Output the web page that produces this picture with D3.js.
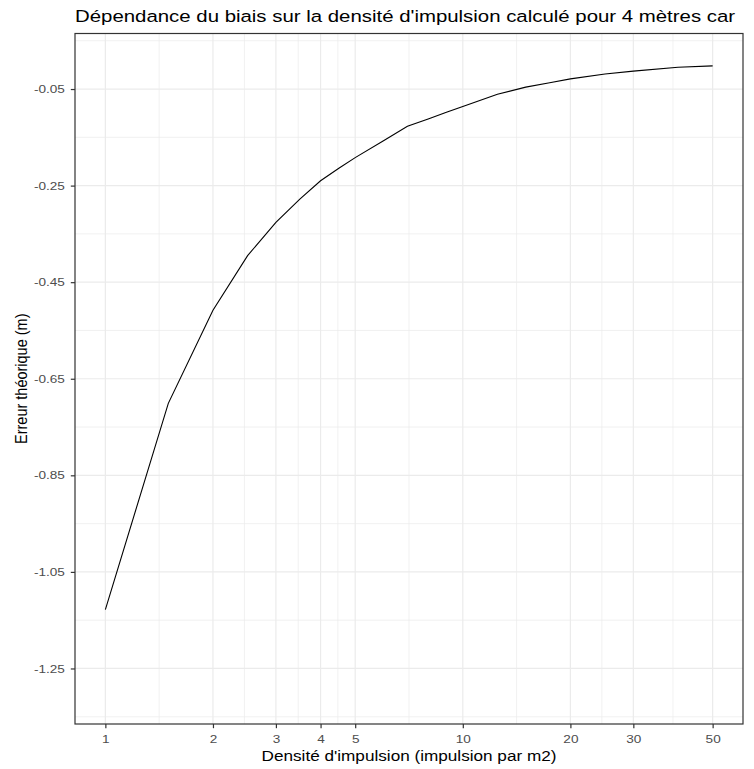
<!DOCTYPE html>
<html>
<head>
<meta charset="utf-8">
<script src="https://cdn.jsdelivr.net/npm/d3@7"></script>
<style>
  html, body { margin: 0; padding: 0; background: #fff; }
  svg { display: block; font-family: "Liberation Sans", Arial, sans-serif; }
</style>
</head>
<body>
<svg id="chart" width="754" height="769"></svg>
<script>
// Data
const densite = [1, 1.5, 2, 2.5, 3, 3.5, 4, 4.5, 5, 6, 7, 8, 9, 10, 12.5, 15, 17.5, 20, 25, 30, 40, 50];
const erreur  = [-1.128, -0.701, -0.508, -0.395, -0.326, -0.278, -0.240, -0.214, -0.192, -0.157, -0.127, -0.112, -0.098, -0.086, -0.061, -0.046, -0.037, -0.029, -0.019, -0.013, -0.005, -0.002];
const xBreaks = [1, 2, 3, 4, 5, 10, 20, 30, 50];
const xMinor  = [Math.sqrt(2), Math.sqrt(6), Math.sqrt(12), Math.sqrt(20), Math.sqrt(50), Math.sqrt(200), Math.sqrt(600), Math.sqrt(1500)];
const yBreaks = [-1.25, -1.05, -0.85, -0.65, -0.45, -0.25, -0.05];
const yMinor  = [-1.35, -1.15, -0.95, -0.75, -0.55, -0.35, -0.15, 0.05];
const yLimits = [-1.3, 0];
const titleText = "Dépendance du biais sur la densité d'impulsion calculé pour 4 mètres car";
const xTitle = "Densité d'impulsion (impulsion par m2)";
const yTitle = "Erreur théorique (m)";

const data = densite.map((d, i) => ({x: d, y: erreur[i]}));

const SX = 1.2; // horizontal stretch of the reference image
const svg = d3.select("#chart");
const panel = {left: 75, right: 743, top: 33.5, bottom: 724};

// log x with 5% expansion
const lx0 = Math.log10(1), lx1 = Math.log10(50), lpad = (lx1 - lx0) * 0.05;
const x = d3.scaleLog()
  .domain([Math.pow(10, lx0 - lpad), Math.pow(10, lx1 + lpad)])
  .range([panel.left, panel.right]);
const ypad = (yLimits[1] - yLimits[0]) * 0.05;
const y = d3.scaleLinear()
  .domain([yLimits[0] - ypad, yLimits[1] + ypad])
  .range([panel.bottom, panel.top]);

const g = svg.append("g");

g.append("rect").attr("x", panel.left).attr("y", panel.top)
  .attr("width", panel.right - panel.left).attr("height", panel.bottom - panel.top)
  .attr("fill", "#fff");

// minor grid
g.selectAll(".xminor").data(xMinor).enter().append("line")
  .attr("x1", d => x(d)).attr("x2", d => x(d))
  .attr("y1", panel.top).attr("y2", panel.bottom)
  .attr("stroke", "#ebebeb").attr("stroke-width", 0.7);
g.selectAll(".yminor").data(yMinor).enter().append("line")
  .attr("y1", d => y(d)).attr("y2", d => y(d))
  .attr("x1", panel.left).attr("x2", panel.right)
  .attr("stroke", "#ebebeb").attr("stroke-width", 0.7);
// major grid
g.selectAll(".xmajor").data(xBreaks).enter().append("line")
  .attr("x1", d => x(d)).attr("x2", d => x(d))
  .attr("y1", panel.top).attr("y2", panel.bottom)
  .attr("stroke", "#ebebeb").attr("stroke-width", 1.2);
g.selectAll(".ymajor").data(yBreaks).enter().append("line")
  .attr("y1", d => y(d)).attr("y2", d => y(d))
  .attr("x1", panel.left).attr("x2", panel.right)
  .attr("stroke", "#ebebeb").attr("stroke-width", 1.2);

// line
const line = d3.line().x(d => x(d.x)).y(d => y(d.y));
g.append("path").datum(data).attr("d", line)
  .attr("fill", "none").attr("stroke", "#000").attr("stroke-width", 1.1);

// panel border
g.append("rect").attr("x", panel.left).attr("y", panel.top)
  .attr("width", panel.right - panel.left).attr("height", panel.bottom - panel.top)
  .attr("fill", "none").attr("stroke", "#333").attr("stroke-width", 1.2);

// axes
const xAxis = d3.axisBottom(x).tickValues(xBreaks).tickFormat(d3.format("d")).tickSizeInner(4.2).tickSizeOuter(0).tickPadding(6.6);
const xg = svg.append("g").attr("transform", `translate(0,${panel.bottom})`).call(xAxis);
const yAxis = d3.axisLeft(y).tickValues(yBreaks).tickFormat(d3.format(".2f")).tickSizeInner(4.2).tickSizeOuter(0).tickPadding(6);
const yg = svg.append("g").attr("transform", `translate(${panel.left},0)`).call(yAxis);
[xg, yg].forEach(a => {
  a.select(".domain").remove();
  a.selectAll(".tick line").attr("stroke", "#333").attr("stroke-width", 1.2);
  a.selectAll(".tick text").attr("fill", "#4d4d4d").style("font-size", "11.3px")
    .style("font-family", "'Liberation Sans', Arial, sans-serif");
});
yg.selectAll(".tick text").text(d => d3.format(".2f")(d).replace("−", "-"))
  .attr("x", -(4.2 + 6) / SX).attr("transform", `scale(${SX},1)`);
xg.selectAll(".tick text").attr("transform", `scale(${SX},1)`);

// titles
svg.append("text").attr("transform", `translate(${panel.left},22.3) scale(${SX},1)`)
  .attr("fill", "#000").style("font-size", "17px").text(titleText);
svg.append("text").attr("transform", `translate(${(panel.left + panel.right) / 2},761) scale(${SX},1)`)
  .attr("text-anchor", "middle").attr("fill", "#000").style("font-size", "14.3px").text(xTitle);
svg.append("text").attr("transform", `translate(27,${(panel.top + panel.bottom) / 2}) scale(${SX},1) rotate(-90)`)
  .attr("text-anchor", "middle").attr("fill", "#000").style("font-size", "14.5px").text(yTitle);
</script>
</body>
</html>
